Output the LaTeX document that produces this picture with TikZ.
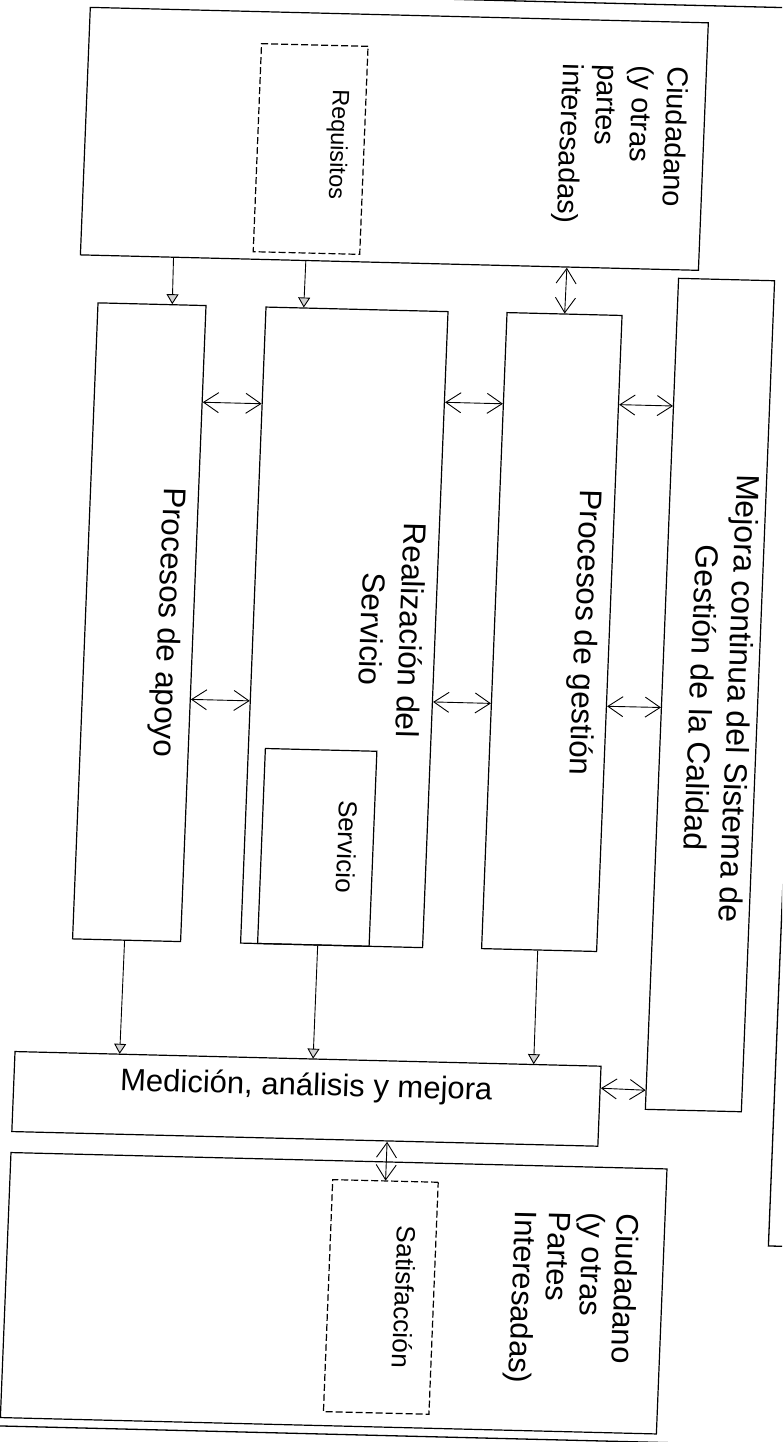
\documentclass[tikz,border=0pt]{standalone}
\usepackage{fontspec}
\setmainfont{Liberation Sans}
\usetikzlibrary{arrows.meta,calc}

\tikzset{
  box/.style={draw=black, line width=1.2pt, inner sep=0pt, anchor=north west},
  dbox/.style={box, dash pattern=on 7pt off 3pt},
  frame/.style={draw=black, line width=1.3pt},
  vlbl/.style={inner sep=0pt, rotate=-90, text=black},
  hlbl/.style={inner sep=0pt, text=black},
  feed/.style={draw=black, line width=0.9pt,
    -{Triangle[open, length=10pt, width=12pt, fill=gray!35]}},
  link/.style={draw=black, line width=0.9pt,
    {Straight Barb[length=15pt, width=20pt]}-{Straight Barb[length=15pt, width=20pt]}},
}

\begin{document}
\begin{tikzpicture}[x=1pt, y=-1pt]
  \useasboundingbox (0,0) rectangle (782,1442);
  \fill[white] (0,0) rectangle (782,1442);
  \clip (0,0) rectangle (782,1442);

  % the sheet sits slightly askew
  \begin{scope}[shift={(391,721)}, cm={1,-0.025,0.04,1,(0,0)}, shift={(-391,-721)}, transform shape]

    % page frame lines
    \draw[frame] (-100,-1.5) -- (900,-1.5);
    \draw[frame] (789,700) -- (789,1236) -- (900,1236);
    \draw[frame] (-100,1435) -- (800,1435);

    % boxes
    \node[box, minimum width=618pt, minimum height=247.5pt] (C1) at (61.5,15) {};
    \node[dbox, minimum width=106.5pt, minimum height=208pt] (Req) at (234,47) {};
    \node[box, minimum width=108pt, minimum height=636pt] (B1) at (81,310) {};
    \node[box, minimum width=182pt, minimum height=636pt] (B2) at (249,310) {};
    \node[box, minimum width=111.5pt, minimum height=195pt] (Srv) at (266,751) {};
    \node[box, minimum width=115pt, minimum height=636pt] (B3) at (490,309.5) {};
    \node[box, minimum width=96pt, minimum height=831pt] (B4) at (660,271) {};
    \node[box, minimum width=586pt, minimum height=80pt] (B5) at (28,1060) {};
    \node[box, minimum width=656pt, minimum height=265pt] (C2) at (28,1161) {};
    \node[dbox, minimum width=105.5pt, minimum height=232pt] (Sat) at (350.5,1180) {};

    % labels (the base of a multi-line label is its last line)
    \node[vlbl, anchor=base west, align=left, font={\fontsize{29}{35}\selectfont}] (tC1) at (537,60)
      {Ciudadano\\(y otras\\partes\\interesadas)};
    \node[vlbl, anchor=base west, font={\fontsize{23.6}{28}\selectfont}] (tReq) at (308,91) {Requisitos};
    \node[vlbl, anchor=base, font={\fontsize{31.5}{36}\selectfont}] (tB1) at (155,628) {Procesos de apoyo};
    \node[vlbl, anchor=base, align=center, font={\fontsize{31.7}{39}\selectfont}] (tB2) at (357.4,630)
      {Realización del\\Servicio};
    \node[vlbl, anchor=base west, font={\fontsize{26}{30}\selectfont}] (tSrv) at (343,801) {Servicio};
    \node[vlbl, anchor=base, font={\fontsize{31.5}{36}\selectfont}] (tB3) at (571.5,628) {Procesos de gestión};
    \node[vlbl, anchor=base, align=center, font={\fontsize{32}{38}\selectfont}] (tB4) at (689,690)
      {Mejora continua del Sistema de\\Gestión de la Calidad};
    \node[hlbl, anchor=base, font={\fontsize{31}{36}\selectfont}] (tB5) at (321,1097) {Medición, análisis y mejora};
    \node[vlbl, anchor=base west, align=left, font={\fontsize{31}{34}\selectfont}] (tC2) at (535,1207)
      {Ciudadano\\(y otras\\Partes\\Interesadas)};
    \node[vlbl, anchor=base west, font={\fontsize{26.3}{30}\selectfont}] (tSat) at (418,1225) {Satisfacción};

    % inputs from the citizen
    \draw[feed] ($(C1.south west)!0.1513!(C1.south east)$) -- ($(B1.north west)!0.685!(B1.north east)$);
    \draw[feed] ($(C1.south west)!0.3649!(C1.south east)$) -- ($(B2.north west)!0.2088!(B2.north east)$);
    \draw[link] ($(C1.south west)!0.7864!(C1.south east)$) -- (B3.north);

    % links between the process columns
    \draw[link] ($(B1.north east)!0.1525!(B1.south east)$) -- ($(B2.north west)!0.1525!(B2.south west)$);
    \draw[link] ($(B2.north east)!0.1431!(B2.south east)$) -- ($(B3.north west)!0.1439!(B3.south west)$);
    \draw[link] ($(B3.north east)!0.1407!(B3.south east)$) -- ($(B4.north west)!0.154!(B4.south west)$);
    \draw[link] ($(B1.north east)!0.6187!(B1.south east)$) -- ($(B2.north west)!0.6187!(B2.south west)$);
    \draw[link] ($(B2.north east)!0.6132!(B2.south east)$) -- ($(B3.north west)!0.614!(B3.south west)$);
    \draw[link] ($(B3.north east)!0.614!(B3.south east)$) -- ($(B4.north west)!0.5162!(B4.south west)$);

    % outputs towards measurement
    \draw[feed] ($(B1.south west)!0.4815!(B1.south east)$) -- ($(B5.north west)!0.1792!(B5.north east)$);
    \draw[feed] ($(Srv.south west)!0.538!(Srv.south east)$) -- ($(B5.north west)!0.5085!(B5.north east)$);
    \draw[feed] ($(B3.south west)!0.487!(B3.south east)$) -- ($(B5.north west)!0.884!(B5.north east)$);
    \draw[link] ($(B5.north east)!0.275!(B5.south east)$) -- ($(B4.north west)!0.976!(B4.south west)$);
    \draw[link] ($(B5.south west)!0.64!(B5.south east)$) -- (Sat.north);
  \end{scope}
\end{tikzpicture}
\end{document}
